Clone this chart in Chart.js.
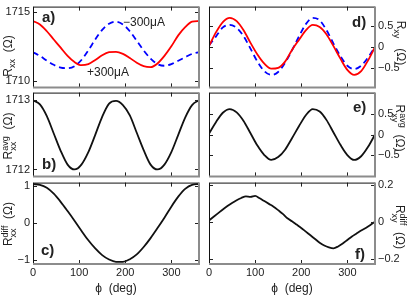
<!DOCTYPE html>
<html>
<head>
<meta charset="utf-8">
<script src="https://cdn.jsdelivr.net/npm/chart.js@4"></script>
<style>
  body { margin: 0; background: #fff; }
  #fig { position: relative; width: 415px; height: 297px; overflow: hidden;
         font-family: "Liberation Sans", Arial, Helvetica, sans-serif; color: #222; }
  #fig canvas { position: absolute; }
  .lbl { position: absolute; white-space: nowrap; font-size: 12px; line-height: 1; }
  .rl { transform: translate(-50%, -50%) rotate(-90deg); }
  .rr { transform: translate(-50%, -50%) rotate(90deg); }
  .cc { transform: translate(-50%, -50%); }
  .lc { transform: translate(0, -50%); }
  .let { font-weight: bold; font-size: 15px; }
  sub { font-size: 9px; vertical-align: -3px; }
  .ss { display: inline-block; font-size: 9px; line-height: 0.9; vertical-align: -4px; }
</style>
</head>
<body>
<div id="fig">
  <canvas id="pa" width="205" height="100"></canvas>
  <canvas id="pb" width="205" height="103"></canvas>
  <canvas id="pc" width="205" height="115"></canvas>
  <canvas id="pd" width="212" height="100"></canvas>
  <canvas id="pe" width="212" height="103"></canvas>
  <canvas id="pf" width="212" height="115"></canvas>

  <div class="lbl let lc" style="left:42px;top:16px">a)</div>
  <div class="lbl let lc" style="left:42px;top:163px">b)</div>
  <div class="lbl let lc" style="left:41px;top:249px">c)</div>
  <div class="lbl let lc" style="left:352px;top:21px">d)</div>
  <div class="lbl let lc" style="left:353px;top:106px">e)</div>
  <div class="lbl let lc" style="left:355px;top:253px">f)</div>

  <div class="lbl lc" style="left:123px;top:22px">−300μA</div>
  <div class="lbl lc" style="left:87px;top:72px">+300μA</div>

  <div class="lbl rl" style="left:9px;top:56px">R<sub>xx</sub>&nbsp;&nbsp;(Ω)</div>
  <div class="lbl rl" style="left:9px;top:136px">R<span class="ss">avg<br>xx</span>&nbsp;&nbsp;(Ω)</div>
  <div class="lbl rl" style="left:9px;top:224px">R<span class="ss">diff<br>xx</span>&nbsp;&nbsp;(Ω)</div>
  <div class="lbl rr" style="left:399px;top:43px">R<sub>xy</sub>&nbsp;&nbsp;&nbsp;(Ω)</div>
  <div class="lbl rr" style="left:399px;top:128px">R<span class="ss">avg<br>xy</span>&nbsp;&nbsp;(Ω)</div>
  <div class="lbl rr" style="left:399px;top:227px">R<span class="ss">diff<br>xy</span>&nbsp;&nbsp;(Ω)</div>

  <div class="lbl cc" style="left:116px;top:288px">ϕ&nbsp;&nbsp;(deg)</div>
  <div class="lbl cc" style="left:292px;top:288px">ϕ&nbsp;&nbsp;(deg)</div>
</div>
<script>
// angle grid (deg)
const phi = [0, 15, 30, 45, 60, 75, 90, 105, 120, 135, 150, 165, 180,
             195, 210, 225, 240, 255, 270, 285, 300, 315, 330, 345, 360];

// a) Rxx for +300uA (red) and -300uA (blue dashed)
const rxxPlus  = [1714.35, 1714.1, 1713.6, 1713.0, 1712.4, 1711.8, 1711.35, 1711.12, 1711.2, 1711.5, 1711.85, 1712.07, 1712.1,
                  1711.95, 1711.65, 1711.3, 1711.05, 1710.98, 1711.25, 1711.8, 1712.5, 1713.3, 1713.9, 1714.3, 1714.35];
const rxxMinus = [1712.07, 1711.8, 1711.45, 1711.15, 1710.95, 1710.9, 1711.05, 1711.5, 1712.2, 1713.0, 1713.7, 1714.15, 1714.3,
                  1714.1, 1713.6, 1712.9, 1712.2, 1711.6, 1711.2, 1711.08, 1711.2, 1711.45, 1711.7, 1711.95, 1712.07];
// b) average
const rxxAvg   = [1713.0, 1712.94, 1712.77, 1712.52, 1712.27, 1712.07, 1712.0, 1712.07, 1712.25, 1712.5, 1712.76, 1712.95, 1712.99,
                  1712.93, 1712.78, 1712.53, 1712.28, 1712.07, 1712.0, 1712.07, 1712.25, 1712.5, 1712.75, 1712.93, 1713.0];
// c) difference
const rxxDiff  = [1.06, 1.04, 0.96, 0.80, 0.58, 0.33, 0.07, -0.20, -0.46, -0.68, -0.86, -0.98, -1.04,
                  -1.04, -0.97, -0.84, -0.64, -0.40, -0.13, 0.15, 0.45, 0.72, 0.93, 1.04, 1.06];
// d) Rxy for +300uA (red) and -300uA (blue dashed)
const rxyPlus  = [0.02, 0.35, 0.60, 0.70, 0.62, 0.40, 0.10, -0.18, -0.40, -0.52, -0.50, -0.35, -0.07,
                  0.17, 0.40, 0.53, 0.48, 0.30, 0.02, -0.28, -0.55, -0.67, -0.58, -0.32, 0.0];
const rxyMinus = [0.04, 0.25, 0.47, 0.53, 0.46, 0.26, -0.04, -0.35, -0.58, -0.67, -0.60, -0.38, -0.08,
                  0.25, 0.55, 0.70, 0.64, 0.40, 0.08, -0.22, -0.45, -0.53, -0.45, -0.25, 0.0];
// e) average
const rxyAvg   = [0.02, 0.30, 0.53, 0.62, 0.54, 0.33, 0.03, -0.27, -0.50, -0.62, -0.55, -0.37, -0.09,
                  0.20, 0.47, 0.62, 0.56, 0.35, 0.05, -0.25, -0.50, -0.62, -0.53, -0.30, 0.0];
// f) difference, finer grid (noisy trace)
const phiFine  = [0, 10, 20, 30, 40, 50, 60, 70, 80, 90, 100, 110, 120, 130, 140, 150, 160, 170, 180,
                  190, 200, 210, 220, 230, 240, 250, 260, 270, 280, 290, 300, 310, 320, 330, 340, 350, 360];
const rxyDiff  = [0.01, 0.03, 0.05, 0.07, 0.088, 0.105, 0.12, 0.132, 0.141, 0.138, 0.143, 0.13, 0.115, 0.10, 0.085, 0.066, 0.046, 0.022, 0.006,
                  -0.012, -0.03, -0.05, -0.07, -0.09, -0.11, -0.125, -0.135, -0.14, -0.13, -0.114, -0.095, -0.076, -0.06, -0.044, -0.03, -0.014, 0.004];

// tick labels
const phiTicks  = [0, 100, 200, 300];
const ticksA = [1710, 1715];
const ticksB = [1712, 1713];
const ticksC = [-1, 0, 1];
const ticksD = [-0.5, 0, 0.5];
const ticksE = [-0.5, 0, 0.5];
const ticksF = [-0.2, 0, 0.2];

const FONT = { family: '"Liberation Sans", Arial, Helvetica, sans-serif', size: 11 };

// box around the plot and inward tick marks
const framePlugin = {
  id: 'frame',
  afterDraw(chart) {
    const { ctx, chartArea: a, scales } = chart;
    ctx.save();
    ctx.strokeStyle = '#222';
    ctx.lineWidth = 1;
    ctx.beginPath();
    scales.x.ticks.forEach(t => {
      const px = Math.round(scales.x.getPixelForValue(t.value)) + 0.5;
      ctx.moveTo(px, a.bottom); ctx.lineTo(px, a.bottom - 4);
      ctx.moveTo(px, a.top); ctx.lineTo(px, a.top + 4);
    });
    scales.y.ticks.forEach(t => {
      const py = Math.round(scales.y.getPixelForValue(t.value)) + 0.5;
      ctx.moveTo(a.left, py); ctx.lineTo(a.left + 4, py);
      ctx.moveTo(a.right, py); ctx.lineTo(a.right - 4, py);
    });
    ctx.stroke();
    // top + left dark, bottom + right grey
    ctx.strokeStyle = '#111';
    ctx.beginPath();
    ctx.moveTo(a.left + 0.5, a.bottom); ctx.lineTo(a.left + 0.5, a.top + 0.5); ctx.lineTo(a.right, a.top + 0.5);
    ctx.stroke();
    ctx.strokeStyle = '#8c8c8c';
    ctx.lineWidth = 2;
    ctx.beginPath();
    ctx.moveTo(a.right, a.top); ctx.lineTo(a.right, a.bottom); ctx.lineTo(a.left, a.bottom);
    ctx.stroke();
    ctx.restore();
  }
};

const series = (xs, ys, color, dash) => ({
  data: xs.map((x, i) => ({ x: x, y: ys[i] })),
  borderColor: color,
  borderWidth: 1.8,
  borderDash: dash || [],
  pointRadius: 0,
  fill: false,
  cubicInterpolationMode: 'monotone'
});

function panel(id, left, top, datasets, yMin, yMax, yTicks, opts) {
  const cv = document.getElementById(id);
  cv.style.left = left + 'px';
  cv.style.top = top + 'px';
  const right = opts.side === 'right';
  new Chart(cv.getContext('2d'), {
    type: 'line',
    data: { datasets: datasets },
    options: {
      responsive: false,
      animation: false,
      devicePixelRatio: 1,
      layout: { padding: { left: right ? 6 : 0, right: right ? 0 : 6, top: 8, bottom: opts.bottom ? 2 : 8 } },
      plugins: { legend: { display: false }, tooltip: { enabled: false } },
      scales: {
        x: {
          type: 'linear', min: 0, max: 360,
          grid: { display: false, drawTicks: false },
          border: { display: false },
          afterBuildTicks: s => { s.ticks = phiTicks.map(v => ({ value: v })); },
          afterFit: s => { s.height = opts.bottom ? 22 : 0; },
          ticks: { display: !!opts.bottom, padding: 2, maxRotation: 0, font: FONT, color: '#222' }
        },
        y: {
          type: 'linear', min: yMin, max: yMax,
          position: right ? 'right' : 'left',
          grid: { display: false, drawTicks: false },
          border: { display: false },
          afterBuildTicks: s => { s.ticks = yTicks.map(v => ({ value: v })); },
          afterFit: s => { s.width = right ? 40 : 33; },
          ticks: {
            padding: 3, font: FONT, color: '#222',
            callback: v => String(v).replace('-', '−')
          }
        }
      }
    },
    plugins: [framePlugin]
  });
}

const RED = '#ff0000', BLUE = '#0000ff', BLACK = '#111';

panel('pa', 0, -3, [series(phi, rxxPlus, RED), series(phi, rxxMinus, BLUE, [6, 4])],
      1709.5, 1715.4, ticksA, {});
panel('pb', 0, 83, [series(phi, rxxAvg, BLACK)], 1711.9, 1713.11, ticksB, {});
panel('pc', 0, 173, [series(phi, rxxDiff, BLACK)], -1.1, 1.1, ticksC, { bottom: true });

panel('pd', 203, -3, [series(phi, rxyPlus, RED), series(phi, rxyMinus, BLUE, [6, 4])],
      -0.97, 0.97, ticksD, { side: 'right' });
panel('pe', 203, 83, [series(phi, rxyAvg, BLACK)], -1.02, 1.02, ticksE, { side: 'right' });
panel('pf', 203, 173, [series(phiFine, rxyDiff, BLACK)], -0.225, 0.215, ticksF, { side: 'right', bottom: true });
</script>
</body>
</html>
